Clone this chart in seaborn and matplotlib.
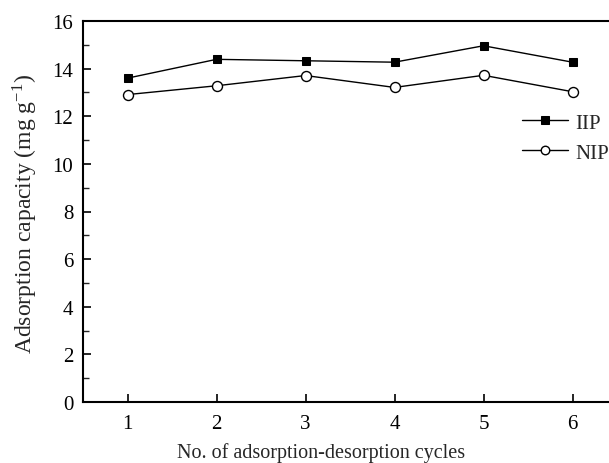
import matplotlib
matplotlib.use("Agg")
import matplotlib.pyplot as plt
import seaborn as sns
import pandas as pd
from matplotlib.ticker import MultipleLocator

cycles = [1, 2, 3, 4, 5, 6]
iip = [13.6, 14.39, 14.33, 14.27, 14.96, 14.27]
nip = [12.91, 13.28, 13.71, 13.21, 13.72, 13.03]

sns.set_theme(style="ticks")
plt.rcParams['font.family'] = ['Liberation Serif', 'DejaVu Serif']
plt.rcParams['mathtext.fontset'] = 'stix'

fig = plt.figure(figsize=(6.09, 4.64), dpi=100)
# axes extends beyond right edge of the figure (cropped like the reference)
L, R, T, B = 83, 617, 22, 403
ax = fig.add_axes([L/609, (464-B)/464, (R-L)/609, (B-T)/464])

df_iip = pd.DataFrame({"cycle": cycles, "cap": iip})
df_nip = pd.DataFrame({"cycle": cycles, "cap": nip})

sns.lineplot(data=df_iip, x="cycle", y="cap", ax=ax, color="black", lw=1.0,
             marker="s", markersize=6.2, markerfacecolor="black",
             markeredgecolor="black", label="IIP")
sns.lineplot(data=df_nip, x="cycle", y="cap", ax=ax, color="black", lw=1.0,
             marker="o", markersize=7.2, markerfacecolor="white",
             markeredgecolor="black", markeredgewidth=1.0, label="NIP")

ax.set_xlim(0.5, 6.5)
ax.set_ylim(0, 16)
ax.set_xticks(cycles)
ax.yaxis.set_major_locator(MultipleLocator(2))
ax.yaxis.set_minor_locator(MultipleLocator(1))
ax.tick_params(axis="both", which="major", direction="in", length=6, width=1.2,
               labelsize=15, colors="black", pad=7)
ax.tick_params(axis="x", which="major", pad=9)
ax.tick_params(axis="y", which="minor", direction="in", length=4, width=1.0, left=True)
ax.tick_params(axis="x", which="minor", bottom=False)
for s in ax.spines.values():
    s.set_linewidth(1.5)
    s.set_color("black")

ax.set_xlabel("No. of adsorption-desorption cycles", fontsize=14.5)
ax.set_ylabel("Adsorption capacity (mg g$^{\\mathregular{-1}}$)", fontsize=17)
ax.xaxis.set_label_coords((321 - L) / (R - L), (B - 443) / (B - T))
ax.yaxis.set_label_coords((40 - L) / (R - L), (B - 214) / (B - T))

leg = ax.legend(loc="upper left", bbox_to_anchor=(522/609, 1 - 114/464),
                bbox_transform=fig.transFigure, frameon=False, fontsize=15,
                handlelength=2.2, handletextpad=0.35, labelspacing=0.5,
                borderaxespad=0, borderpad=0, markerscale=0.85)

fig.savefig("out.png", dpi=100)
